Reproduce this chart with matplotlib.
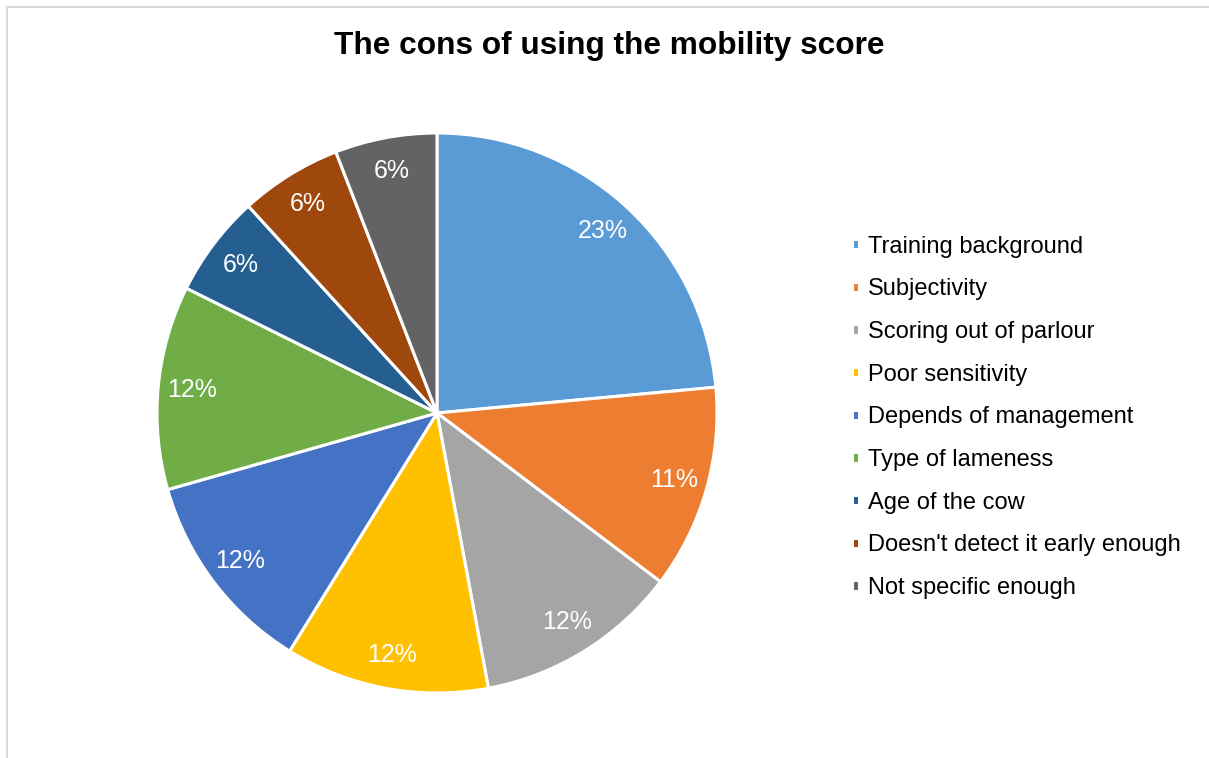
import matplotlib.pyplot as plt
from matplotlib.patches import Rectangle

plt.rcParams['font.family'] = ['Liberation Sans', 'DejaVu Sans']

# data: number of responses per con (17 in total) and the shown labels
labels = ['Training background', 'Subjectivity', 'Scoring out of parlour',
          'Poor sensitivity', 'Depends of management', 'Type of lameness',
          'Age of the cow', "Doesn't detect it early enough", 'Not specific enough']
responses = [4, 2, 2, 2, 2, 2, 1, 1, 1]
pct_labels = ['23%', '11%', '12%', '12%', '12%', '12%', '6%', '6%', '6%']
colors = ['#5B9BD5', '#ED7D31', '#A5A5A5', '#FFC000', '#4472C4',
          '#70AD47', '#255E91', '#9E480E', '#636363']

fig = plt.figure(figsize=(12.09, 7.58), dpi=100)

# light grey chart border
fig.patches.append(Rectangle((7 / 1209, -0.01), 1.02, 1 - 7 / 758 + 0.01,
                             transform=fig.transFigure, fill=False,
                             edgecolor='#D9D9D9', linewidth=1.5))

ax = fig.add_axes([157 / 1209, 65 / 758, 560 / 1209, 560 / 758])
wedges, texts, autotexts = ax.pie(
    responses, colors=colors, startangle=90, counterclock=False,
    autopct='%.0f%%', pctdistance=0.88,
    wedgeprops=dict(edgecolor='white', linewidth=2.2),
    textprops=dict(color='white', fontsize=18))
for t, s in zip(autotexts, pct_labels):
    t.set_text(s)
ax.set_xlim(-1, 1)
ax.set_ylim(-1, 1)
ax.set_aspect('equal')

fig.text(0.504, 0.939, 'The cons of using the mobility score',
         ha='center', va='center', fontsize=22.8, fontweight='bold')

fig.legend(wedges, labels, loc='center left', bbox_to_anchor=(852 / 1209, 0.4495),
           frameon=False, fontsize=17, handlelength=0.3, handleheight=0.3,
           handletextpad=0.38, labelspacing=0.875, borderpad=0, borderaxespad=0)

fig.savefig('out.png', dpi=100)
